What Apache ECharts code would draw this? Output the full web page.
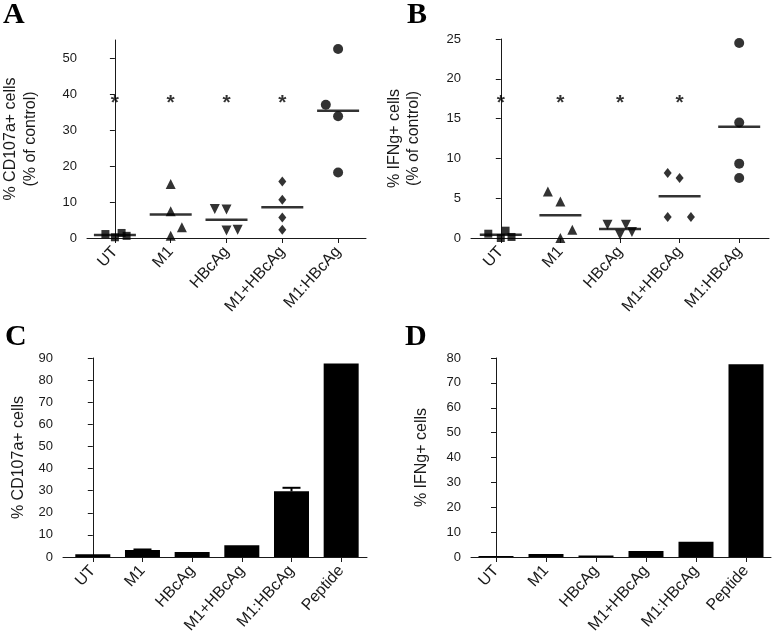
<!DOCTYPE html>
<html><head><meta charset="utf-8">
<script src="https://cdn.jsdelivr.net/npm/echarts@6/dist/echarts.min.js"></script>
<style>html,body{margin:0;padding:0;background:#fff}#c{width:773px;height:639px}</style>
</head><body><div id="c"></div>
<script>
// ---------- data ----------
const catsAB = ['UT', 'M1', 'HBcAg', 'M1+HBcAg', 'M1:HBcAg'];
const catsCD = ['UT', 'M1', 'HBcAg', 'M1+HBcAg', 'M1:HBcAg', 'Peptide'];

// Panel A: % CD107a+ cells (% of control), one value per donor
const aUT = [1.1, 0.2, 1.4, 0.6];
const aM1 = [15.0, 7.4, 3.0, 0.6];
const aHBcAg = [8.05, 7.9, 2.1, 2.3];
const aMix = [15.7, 10.6, 5.7, 2.3];
const aFusion = [52.5, 37.0, 33.8, 18.2];
// Panel B: % IFNg+ cells (% of control)
const bUT = [0.54, 0.0, 0.92, 0.13];
const bM1 = [5.85, 4.6, 1.04, 0.0];
const bHBcAg = [1.67, 1.67, 0.42, 0.75];
const bMix = [8.17, 7.54, 2.64, 2.64];
const bFusion = [24.5, 14.5, 9.34, 7.54];
// horizontal spread of the donor points inside each group (category units)
const spreadA = [[-0.17, 0, 0.12, 0.21], [0, 0, 0.2, 0], [-0.21, 0, 0, 0.2], [0, 0, 0, 0], [0, -0.22, 0, 0]];
const spreadB = [[-0.21, 0, 0.08, 0.18], [-0.21, 0, 0.2, 0], [-0.21, 0.1, 0, 0.2], [-0.2, 0, -0.2, 0.19], [0, 0, 0, 0]];
// significance markers (*) and their height
const sigA = [true, true, true, true, false];
const sigB = [true, true, true, true, false];
const sigLevelA = 38.8;
const sigLevelB = 17.5;

// Panel C: % CD107a+ cells ; Panel D: % IFNg+ cells
const cValues = [1.2, 3.2, 2.3, 5.3, 29.7, 87.5];
const cErrTop = [null, 3.4, null, null, 31.3, null];
const dValues = [0.4, 1.2, 0.6, 2.4, 6.1, 77.5];

// axis ticks
const ticksA = [0, 10, 20, 30, 40, 50];
const ticksB = [0, 5, 10, 15, 20, 25];
const ticksC = [0, 10, 20, 30, 40, 50, 60, 70, 80, 90];
const ticksD = [0, 10, 20, 30, 40, 50, 60, 70, 80];

// ---------- styling / builders ----------
const FONT = "'Liberation Sans', Arial, sans-serif";
const INK = '#1a1a1a';
const groupSymbol = ['rect', 'triangle', 'triangle', 'diamond', 'circle'];
const groupRotate = [0, 0, 180, 0, 0];
const groupSize = [8, 10, 10, [8, 10], 10];

function xAxisFor(grid, cats, min, max) {
  const idx = cats.map((_, i) => i);
  return {
    type: 'value', gridIndex: grid, min: min, max: max,
    splitLine: { show: false },
    axisLine: { show: true, onZero: false, lineStyle: { color: INK, width: 1 } },
    axisTick: { show: true, customValues: idx, length: 5, lineStyle: { color: INK } },
    axisLabel: { customValues: idx, formatter: v => cats[Math.round(v)], rotate: 48, fontSize: 16,
      color: INK, margin: 11, fontFamily: FONT }
  };
}
function yAxisFor(grid, max, ticks, name, gap, lh) {
  return {
    type: 'value', gridIndex: grid, min: 0, max: max,
    splitLine: { show: false },
    axisLine: { show: true, lineStyle: { color: INK, width: 1 } },
    axisTick: { show: true, customValues: ticks, length: 5, lineStyle: { color: INK } },
    axisLabel: { customValues: ticks, fontSize: 13, color: INK, margin: 10, fontFamily: FONT },
    name: name, nameLocation: 'middle', nameRotate: 90, nameGap: gap,
    nameTextStyle: { fontSize: 16, color: INK, fontFamily: FONT, lineHeight: lh }
  };
}
function mean(a) { return a.reduce((s, v) => s + v, 0) / a.length; }

function dotSeries(groups, spread, xi, yi, sig, sigLevel) {
  const out = [];
  groups.forEach((vals, g) => {
    out.push({
      type: 'scatter', xAxisIndex: xi, yAxisIndex: yi,
      symbol: groupSymbol[g], symbolRotate: groupRotate[g], symbolSize: groupSize[g],
      itemStyle: { color: '#000' }, silent: true,
      data: vals.map((v, j) => [g + spread[g][j], v])
    });
  });
  out.push({
    type: 'scatter', xAxisIndex: xi, yAxisIndex: yi, symbol: 'rect', symbolSize: [42, 2.5],
    itemStyle: { color: '#000' }, silent: true, z: 3,
    data: groups.map((vals, g) => [g, mean(vals)])
  });
  out.push({
    type: 'scatter', xAxisIndex: xi, yAxisIndex: yi, symbolSize: 1, itemStyle: { color: 'rgba(0,0,0,0)' },
    silent: true,
    label: { show: true, position: 'inside', formatter: '*', fontSize: 21, fontWeight: 'bold', color: '#000',
      fontFamily: FONT, offset: [0, 5] },
    data: sig.map((s, g) => s ? [g, sigLevel] : null).filter(d => d)
  });
  return out;
}

function barSeries(vals, xi, yi) {
  return {
    type: 'bar', xAxisIndex: xi, yAxisIndex: yi, barWidth: 35, silent: true,
    itemStyle: { color: '#000' },
    data: vals.map((v, i) => [i, v])
  };
}
function errSeries(vals, tops, xi, yi) {
  return {
    type: 'custom', xAxisIndex: xi, yAxisIndex: yi, silent: true, z: 5,
    data: tops.map((t, i) => t == null ? null : [i, vals[i], t]).filter(d => d),
    renderItem: function (params, api) {
      const p0 = api.coord([api.value(0), api.value(1)]);
      const p1 = api.coord([api.value(0), api.value(2)]);
      return { type: 'group', children: [
        { type: 'line', shape: { x1: p0[0], y1: p0[1], x2: p1[0], y2: p1[1] }, style: { stroke: '#000', lineWidth: 2 } },
        { type: 'line', shape: { x1: p1[0] - 9, y1: p1[1], x2: p1[0] + 9, y2: p1[1] }, style: { stroke: '#000', lineWidth: 2 } }
      ] };
    }
  };
}

const panelStyle = { fontFamily: "'Liberation Serif', 'Times New Roman', serif", fontWeight: 'bold', fontSize: 30, color: '#000' };

const option = {
  animation: false,
  backgroundColor: '#fff',
  title: [
    { text: 'A', left: 3, top: 0, padding: 0, textStyle: panelStyle },
    { text: 'B', left: 407, top: 0, padding: 0, textStyle: panelStyle },
    { text: 'C', left: 5, top: 322, padding: 0, textStyle: panelStyle },
    { text: 'D', left: 405, top: 322, padding: 0, textStyle: panelStyle }
  ],
  grid: [
    { left: 67, top: 40, width: 299, height: 198 },
    { left: 471, top: 39, width: 298, height: 199 },
    { left: 63, top: 358, width: 304, height: 199 },
    { left: 471, top: 358, width: 300, height: 199 }
  ],
  xAxis: [
    xAxisFor(0, catsAB, -0.5, 4.5),
    xAxisFor(1, catsAB, -0.5, 4.5),
    xAxisFor(2, catsCD, -0.6, 5.52),
    xAxisFor(3, catsCD, -0.5, 5.5)
  ],
  yAxis: [
    yAxisFor(0, 55, ticksA, '% CD107a+ cells\n(% of control)', 46, 20),
    yAxisFor(1, 25, ticksB, '% IFNg+ cells\n(% of control)', 48, 19),
    yAxisFor(2, 90, ticksC, '% CD107a+ cells', 34, 20),
    yAxisFor(3, 80, ticksD, '% IFNg+ cells', 39, 20)
  ],
  series: [].concat(
    dotSeries([aUT, aM1, aHBcAg, aMix, aFusion], spreadA, 0, 0, sigA, sigLevelA),
    dotSeries([bUT, bM1, bHBcAg, bMix, bFusion], spreadB, 1, 1, sigB, sigLevelB),
    [barSeries(cValues, 2, 2), errSeries(cValues, cErrTop, 2, 2),
     barSeries(dValues, 3, 3)]
  )
};
const chart = echarts.init(document.getElementById('c'), null, { renderer: 'canvas' });
chart.setOption(option);
</script>
</body></html>
